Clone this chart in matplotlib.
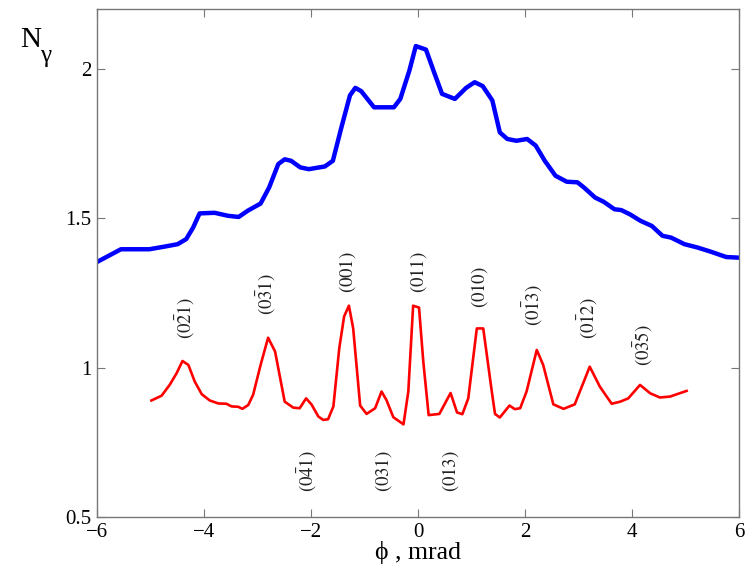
import matplotlib
matplotlib.use("Agg")
import matplotlib.pyplot as plt

# Blue curve (total)
blue_x = [-5.98, -5.55, -5.02, -4.73, -4.49, -4.33, -4.20, -4.08, -3.80, -3.55, -3.35,
          -3.18, -2.94, -2.78, -2.61, -2.49, -2.37, -2.20, -2.04, -1.74, -1.59, -1.43,
          -1.27, -1.17, -1.06, -0.82, -0.45, -0.33, -0.16, -0.04, 0.15, 0.29, 0.45,
          0.69, 0.90, 1.06, 1.21, 1.39, 1.53, 1.67, 1.84, 2.04, 2.20, 2.37, 2.57, 2.78,
          2.98, 3.10, 3.31, 3.47, 3.67, 3.80, 3.96, 4.16, 4.37, 4.57, 4.73, 4.98, 5.22,
          5.47, 5.76, 5.98]
blue_y = [1.355, 1.396, 1.396, 1.405, 1.413, 1.430, 1.469, 1.516, 1.518, 1.508, 1.504,
          1.525, 1.549, 1.603, 1.681, 1.697, 1.692, 1.670, 1.664, 1.673, 1.692, 1.804,
          1.911, 1.936, 1.925, 1.871, 1.871, 1.899, 1.994, 2.076, 2.064, 1.994, 1.916,
          1.899, 1.936, 1.955, 1.942, 1.894, 1.787, 1.765, 1.759, 1.765, 1.743, 1.692,
          1.642, 1.622, 1.620, 1.603, 1.569, 1.555, 1.530, 1.527, 1.513, 1.491, 1.474,
          1.441, 1.435, 1.413, 1.402, 1.388, 1.370, 1.368]

# Red curve (difference)
red_x = [-4.98, -4.79, -4.64, -4.51, -4.40, -4.29, -4.17, -4.04, -3.89, -3.73, -3.58,
         -3.48, -3.36, -3.28, -3.17, -3.08, -2.94, -2.80, -2.67, -2.49, -2.33, -2.21,
         -2.09, -1.99, -1.86, -1.77, -1.68, -1.58, -1.47, -1.38, -1.29, -1.21, -1.08,
         -0.96, -0.80, -0.68, -0.59, -0.46, -0.27, -0.18, -0.09, 0.02, 0.10, 0.20,
         0.40, 0.61, 0.73, 0.83, 0.94, 1.10, 1.22, 1.38, 1.44, 1.53, 1.71, 1.81, 1.91,
         2.03, 2.22, 2.34, 2.53, 2.72, 2.93, 3.21, 3.40, 3.62, 3.78, 3.93, 4.15, 4.34,
         4.52, 4.71, 5.02]
red_y = [0.890, 0.906, 0.942, 0.981, 1.022, 1.009, 0.953, 0.911, 0.890, 0.880, 0.879,
         0.870, 0.869, 0.862, 0.875, 0.909, 1.009, 1.100, 1.054, 0.886, 0.866, 0.864,
         0.897, 0.877, 0.836, 0.825, 0.827, 0.870, 1.065, 1.171, 1.207, 1.131, 0.873,
         0.845, 0.864, 0.920, 0.892, 0.834, 0.810, 0.920, 1.207, 1.201, 1.020, 0.841,
         0.845, 0.915, 0.850, 0.844, 0.897, 1.131, 1.131, 0.920, 0.845, 0.833, 0.873,
         0.861, 0.864, 0.920, 1.059, 1.009, 0.877, 0.862, 0.877, 1.003, 0.936, 0.879,
         0.886, 0.897, 0.942, 0.914, 0.900, 0.903, 0.922]

# Plane labels
label_text = [r'$(0\bar{2}1)$', r'$(0\bar{3}1)$', r'$(001)$', r'$(011)$', r'$(010)$',
              r'$(0\bar{1}3)$', r'$(0\bar{1}2)$', r'$(0\bar{3}5)$',
              r'$(0\bar{4}1)$', r'$(031)$', r'$(013)$']
label_x = [-4.34, -2.84, -1.31, 0.02, 1.16, 2.15, 3.18, 4.21, -2.07, -0.65, 0.60]
label_y = [1.164, 1.247, 1.32, 1.32, 1.27, 1.21, 1.164, 1.074, 0.655, 0.652, 0.652]

x_ticks = [-6, -4, -2, 0, 2, 4, 6]
y_ticks = [0.5, 1, 1.5, 2]
y_tick_labels = ['0.5', '1', '1.5', '2']

plt.rcParams['font.family'] = ['Liberation Serif', 'DejaVu Serif']
plt.rcParams['mathtext.fontset'] = 'stix'

fig = plt.figure(figsize=(7.45, 5.76), dpi=100)
ax = fig.add_axes([0.130, 0.1024, 0.862, 0.882])

ax.plot(blue_x, blue_y, color='#0000ff', lw=3.2, solid_joinstyle='round')
ax.plot(red_x, red_y, color='#ff0000', lw=1.9, solid_joinstyle='round')

for t, x, y in zip(label_text, label_x, label_y):
    ax.text(x, y, t, rotation=90, ha='center', va='center', fontsize=13.5, color='#222222')

ax.set_xlim(-6, 6)
ax.set_ylim(0.5, 2.2)
ax.set_xticks(x_ticks)
ax.set_xticklabels([str(v).replace('-', '\u2212') for v in x_ticks])
ax.set_yticks(y_ticks)
ax.set_yticklabels(y_tick_labels)
ax.tick_params(direction='in', top=True, right=True, length=6, width=0.8,
               labelsize=15, color='#777777', pad=4)
for s in ax.spines.values():
    s.set_color('#777777')
    s.set_linewidth(1.0)

fig.text(0.561, 0.040, '\u03d5 , mrad', ha='center', va='center', fontsize=18.5)
fig.text(0.027, 0.93, 'N', fontsize=21, ha='left', va='center')
fig.text(0.054, 0.903, '\u03b3', fontsize=18, ha='left', va='center')

fig.savefig('out.png', dpi=100)
